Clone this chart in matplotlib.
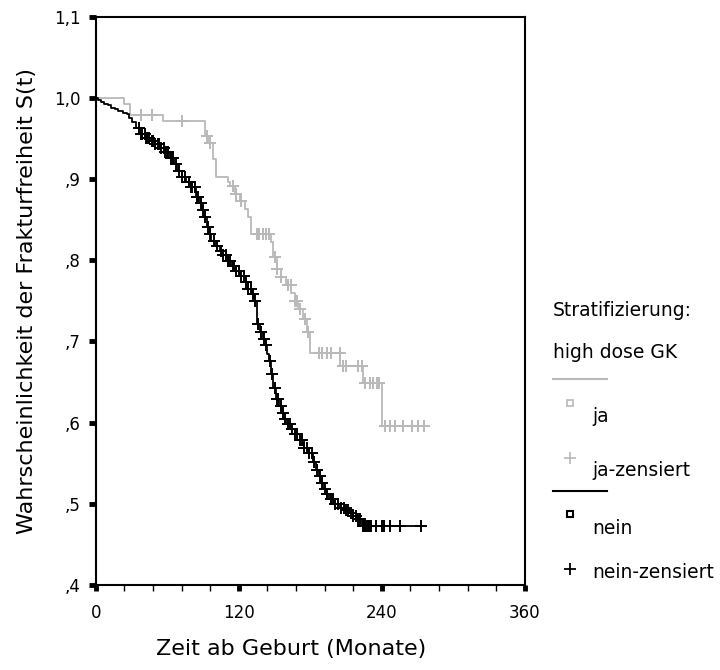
import numpy as np
import matplotlib.pyplot as plt
from matplotlib.lines import Line2D

# Kaplan-Meier steps (months, survival after event)
nein_t = [2, 4, 7, 10, 13, 16, 19, 23, 26, 28, 30, 34, 38, 42, 46, 50, 54, 58,
          62, 66, 69, 72, 76, 80, 84, 87, 89, 91, 93, 95, 97, 100, 104, 107,
          111, 114, 118, 121, 125, 128, 131, 133, 135, 138, 140, 142, 143.5,
          145, 147, 149, 151, 154, 156, 158, 160, 164, 167, 171, 175, 178, 182,
          185, 187, 189, 191, 194, 196, 200, 205, 209, 213, 216, 219, 223]
nein_s = [0.997, 0.995, 0.993, 0.991, 0.988, 0.986, 0.984, 0.982, 0.980, 0.975,
          0.970, 0.963, 0.956, 0.951, 0.947, 0.943, 0.938, 0.933, 0.926, 0.919,
          0.910, 0.902, 0.896, 0.890, 0.878, 0.871, 0.862, 0.853, 0.841, 0.832,
          0.824, 0.818, 0.812, 0.806, 0.799, 0.793, 0.787, 0.780, 0.773, 0.765,
          0.758, 0.750, 0.721, 0.711, 0.703, 0.695, 0.685, 0.676, 0.660, 0.643,
          0.629, 0.620, 0.612, 0.605, 0.598, 0.592, 0.586, 0.578, 0.569, 0.563,
          0.551, 0.542, 0.534, 0.526, 0.518, 0.512, 0.506, 0.500, 0.495, 0.492,
          0.489, 0.485, 0.481, 0.473]
nein_cens = [36, 38, 39, 41, 42, 44, 45, 47, 48, 50, 52, 53, 55, 57, 58, 60, 61,
             63, 65, 67, 70, 72, 75, 78, 80, 81, 83, 85, 86, 88, 90, 92, 94, 96,
             99, 102, 105, 107, 109, 111, 113, 115, 116, 118, 120, 122, 124, 126,
             128, 130, 132, 134, 136, 139, 141, 143, 146, 148, 150, 152, 153, 155,
             157, 159, 161, 163, 165, 167, 169, 171, 173, 175, 177, 179, 181, 183,
             186, 188, 190, 192, 194, 197, 199, 201, 203, 206, 208, 210, 212, 214,
             216, 218, 220, 222, 224, 225, 226, 227, 228, 229, 230, 231, 235, 240,
             242, 247, 255, 273]

ja_t = [24, 28.5, 56.5, 91.5, 95, 98, 101, 111, 113, 117, 121, 125, 128, 130,
        147, 149, 152, 155, 160, 164, 167, 170, 174, 177, 180, 205, 224, 240]
ja_s = [0.993, 0.979, 0.971, 0.953, 0.945, 0.925, 0.902, 0.896, 0.892, 0.882,
        0.873, 0.863, 0.853, 0.832, 0.822, 0.804, 0.789, 0.779, 0.769, 0.760,
        0.750, 0.740, 0.728, 0.711, 0.686, 0.670, 0.649, 0.596]
ja_cens = [38, 47, 72.5, 93, 96, 115, 118, 122, 135, 137, 140, 143, 145, 150,
           152, 155, 161, 163.5, 167, 168.5, 171, 175.5, 178, 187, 190, 194, 197,
           204.5, 207, 210, 220, 223, 225.5, 230, 233, 236, 238, 242.5, 246.7,
           251, 258, 265, 270.5, 275]

yticks = [0.4, 0.5, 0.6, 0.7, 0.8, 0.9, 1.0, 1.1]
ylabels = [',4', ',5', ',6', ',7', ',8', ',9', '1,0', '1,1']
xticks = [0, 120, 240, 360]

grey = '#b9b9b9'


def km_curve(t, s, cens):
    tt = np.r_[0, t, max(cens)]
    ss = np.r_[1.0, s, s[-1]]
    surv = np.r_[1.0, s]
    idx = np.searchsorted(np.r_[0, t], cens, side='right') - 1
    return tt, ss, surv[idx]


fig = plt.figure(figsize=(7.2, 6.7), dpi=100)
ax = fig.add_axes([0.133, 0.127, 0.596, 0.848])

for t, s, c, col in [(ja_t, ja_s, ja_cens, grey), (nein_t, nein_s, nein_cens, 'black')]:
    tt, ss, cy = km_curve(t, s, c)
    ax.step(tt, ss, where='post', color=col, lw=1.3)
    ax.plot(c, cy, '+', color=col, ms=9, mew=1.4)

ax.set_xlim(0, 360)
ax.set_ylim(0.4, 1.1)
ax.set_xticks(xticks)
ax.set_xticks(np.arange(0, 361, 24), minor=True)
ax.set_yticks(yticks)
ax.set_yticklabels(ylabels)
ax.tick_params(axis='y', which='major', length=5, width=3.5, labelsize=12, pad=6)
ax.tick_params(axis='x', which='major', length=4, width=3.5, labelsize=12, pad=10)
ax.tick_params(axis='x', which='minor', length=4, width=1)
for sp in ax.spines.values():
    sp.set_linewidth(1.5)

ax.set_xlabel('Zeit ab Geburt (Monate)', fontsize=16, labelpad=12, x=0.455)
ax.set_ylabel('Wahrscheinlichkeit der Frakturfreiheit S(t)', fontsize=16, labelpad=12)

# legend drawn by hand
W, H = 720, 670
fs = 13.5
fig.text(553 / W, 1 - 310 / H, 'Stratifizierung:', fontsize=fs, va='center')
fig.text(553 / W, 1 - 352 / H, 'high dose GK', fontsize=fs, va='center')
fig.add_artist(Line2D([553 / W, 607 / W], [1 - 379 / H] * 2, color=grey, lw=1.5))
fig.add_artist(Line2D([570 / W], [1 - 403 / H], marker='s', ms=5, mfc='none',
                      mec=grey, mew=1.2, ls='none'))
fig.text(592 / W, 1 - 416 / H, 'ja', fontsize=fs, va='center')
fig.add_artist(Line2D([570 / W], [1 - 458 / H], marker='+', ms=8, mec=grey,
                      mew=1.2, ls='none'))
fig.text(592 / W, 1 - 471 / H, 'ja-zensiert', fontsize=fs, va='center')
fig.add_artist(Line2D([553 / W, 607 / W], [1 - 491 / H] * 2, color='black', lw=1.5))
fig.add_artist(Line2D([570 / W], [1 - 514 / H], marker='s', ms=5, mfc='none',
                      mec='black', mew=1.5, ls='none'))
fig.text(592 / W, 1 - 528 / H, 'nein', fontsize=fs, va='center')
fig.add_artist(Line2D([570 / W], [1 - 569 / H], marker='+', ms=8, mec='black',
                      mew=1.3, ls='none'))
fig.text(592 / W, 1 - 573 / H, 'nein-zensiert', fontsize=fs, va='center')

fig.savefig('out.png', dpi=100)
